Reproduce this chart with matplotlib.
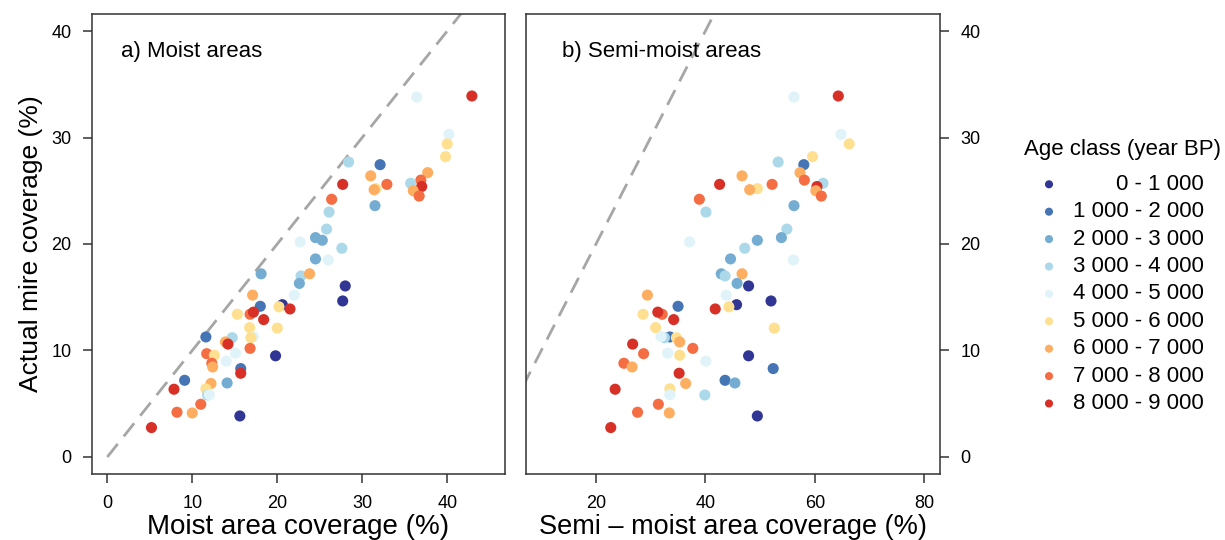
import matplotlib
matplotlib.use("Agg")
import matplotlib.pyplot as plt

plt.rcParams['font.family'] = ['Liberation Sans', 'DejaVu Sans']

age_labels = ["0 - 1 000", "1 000 - 2 000", "2 000 - 3 000", "3 000 - 4 000",
              "4 000 - 5 000", "5 000 - 6 000", "6 000 - 7 000", "7 000 - 8 000",
              "8 000 - 9 000"]
age_colors = ["#313695", "#4575b4", "#74add1", "#abd9e9", "#e0f3f8",
              "#fee090", "#fdae61", "#f46d43", "#d73027"]

# actual mire coverage (%)
mire = [33.8, 33.9, 30.3, 29.4, 28.2, 27.7, 27.45, 26.7, 26.4, 26.0,
        25.7, 25.6, 25.6, 25.2, 25.4, 25.0, 25.1, 24.5, 24.2, 23.6,
        23.0, 21.4, 20.6, 20.35, 20.2, 19.6, 18.6, 18.5, 17.2, 17.0,
        17.2, 16.3, 16.06, 15.2, 15.2, 14.65, 14.15, 14.3, 14.1, 13.9,
        13.4, 13.4, 13.6, 12.9, 12.15, 12.1, 11.27, 11.2, 11.3, 11.2,
        10.8, 10.6, 10.2, 9.7, 9.55, 9.5, 9.74, 9.0, 8.8, 8.45,
        8.3, 7.86, 7.2, 6.36, 6.95, 6.9, 6.4, 5.82, 5.85, 4.95,
        4.2, 4.13, 3.85, 2.76]
# age class index
age = [4, 8, 4, 5, 5, 3, 1, 6, 6, 7,
       3, 8, 7, 5, 8, 6, 6, 7, 7, 2,
       3, 3, 2, 2, 4, 3, 2, 4, 2, 3,
       6, 2, 0, 4, 6, 0, 1, 0, 5, 8,
       5, 7, 8, 8, 5, 5, 1, 3, 4, 5,
       6, 8, 7, 7, 5, 0, 4, 4, 7, 6,
       1, 8, 1, 8, 2, 6, 5, 3, 4, 7,
       7, 6, 0, 8]
# moist area coverage (%)
moist = [36.4, 42.9, 40.2, 40.0, 39.8, 28.4, 32.1, 37.7, 31.0, 36.9,
         35.7, 27.7, 32.9, 31.6, 37.0, 36.0, 31.4, 36.7, 26.4, 31.5,
         26.1, 25.8, 24.5, 25.3, 22.7, 27.6, 24.5, 26.0, 18.1, 22.8,
         23.8, 22.6, 28.0, 22.0, 17.1, 27.7, 18.0, 20.6, 20.2, 21.5,
         15.3, 16.8, 17.2, 18.4, 16.75, 20.0, 11.6, 14.7, 17.2, 16.9,
         13.9, 14.2, 16.8, 11.7, 12.6, 19.8, 15.1, 14.0, 12.3, 12.4,
         15.7, 15.7, 9.1, 7.85, 14.1, 12.2, 11.6, 11.8, 12.0, 11.0,
         8.2, 10.0, 15.6, 5.2]
# semi-moist area coverage (%)
semi = [56.2, 64.3, 64.8, 66.3, 59.6, 53.3, 58.0, 57.3, 46.7, 58.1,
        61.5, 42.6, 52.2, 49.5, 60.4, 60.2, 48.1, 61.2, 38.9, 56.2,
        40.1, 54.9, 53.9, 49.5, 37.1, 47.2, 44.6, 56.1, 42.9, 43.6,
        46.7, 45.8, 47.9, 43.8, 29.4, 52.0, 35.0, 45.7, 44.3, 41.8,
        28.6, 32.1, 31.3, 34.2, 30.9, 52.6, 33.5, 32.5, 31.9, 34.7,
        35.3, 26.7, 37.7, 28.7, 35.3, 47.9, 33.1, 40.1, 25.1, 26.6,
        52.4, 35.2, 43.6, 23.5, 45.4, 36.4, 33.5, 39.9, 33.5, 31.4,
        27.6, 33.4, 49.5, 22.7]

colors = [age_colors[a] for a in age]

W, H = 1225, 540
fig = plt.figure(figsize=(W / 100, H / 100), dpi=100)

def box(x0, y0, x1, y1):
    return [x0 / W, 1 - y1 / H, (x1 - x0) / W, (y1 - y0) / H]

axL = fig.add_axes(box(92, 14, 505, 474))
axR = fig.add_axes(box(526, 14, 940, 474))

frame_col = "#333333"
for ax in (axL, axR):
    for sp in ax.spines.values():
        sp.set_linewidth(1.1)
        sp.set_color(frame_col)
    ax.plot([0, 60], [0, 60], color="#a6a6a6", lw=2.0, dashes=(6, 3.5),
            zorder=1, solid_capstyle='butt')
    ax.set_ylim(-1.6, 41.6)
    ax.set_yticks([0, 10, 20, 30, 40])
    ax.tick_params(direction='out', length=6.8, width=1.1, color=frame_col,
                   labelsize=13, pad=8)

axL.scatter(moist, mire, c=colors, s=64, linewidths=0, zorder=3)
axR.scatter(semi, mire, c=colors, s=64, linewidths=0, zorder=3)

axL.set_xlim(-1.8, 46.8)
axL.set_xticks([0, 10, 20, 30, 40])
axR.set_xlim(7.2, 82.9)
axR.set_xticks([20, 40, 60, 80])
axR.yaxis.tick_right()

axL.set_xlabel("Moist area coverage (%)", fontsize=20, labelpad=2)
axR.set_xlabel("Semi \u2013 moist area coverage (%)", fontsize=19.5, labelpad=2)
axL.set_ylabel("Actual mire coverage (%)", fontsize=19, labelpad=6)

axL.text(0.07, 0.918, "a) Moist areas", transform=axL.transAxes,
         fontsize=16, va='center', ha='left')
axR.text(0.088, 0.918, "b) Semi-moist areas", transform=axR.transAxes,
         fontsize=16, va='center', ha='left')

# legend
axLeg = fig.add_axes(box(1010, 130, 1225, 420))
axLeg.set_xlim(1010, 1225)
axLeg.set_ylim(420, 130)
axLeg.axis('off')
axLeg.text(1122, 150, "Age class (year BP)", fontsize=16, ha='center', va='center')
row_y = [184.3 + 27.4 * i for i in range(len(age_labels))]
axLeg.scatter([1049] * len(age_labels), row_y, c=age_colors, s=34, linewidths=0)
for yy, lab in zip(row_y, age_labels):
    axLeg.text(1204, yy, lab, fontsize=16, ha='right', va='center')

fig.savefig("out.png", dpi=100)
